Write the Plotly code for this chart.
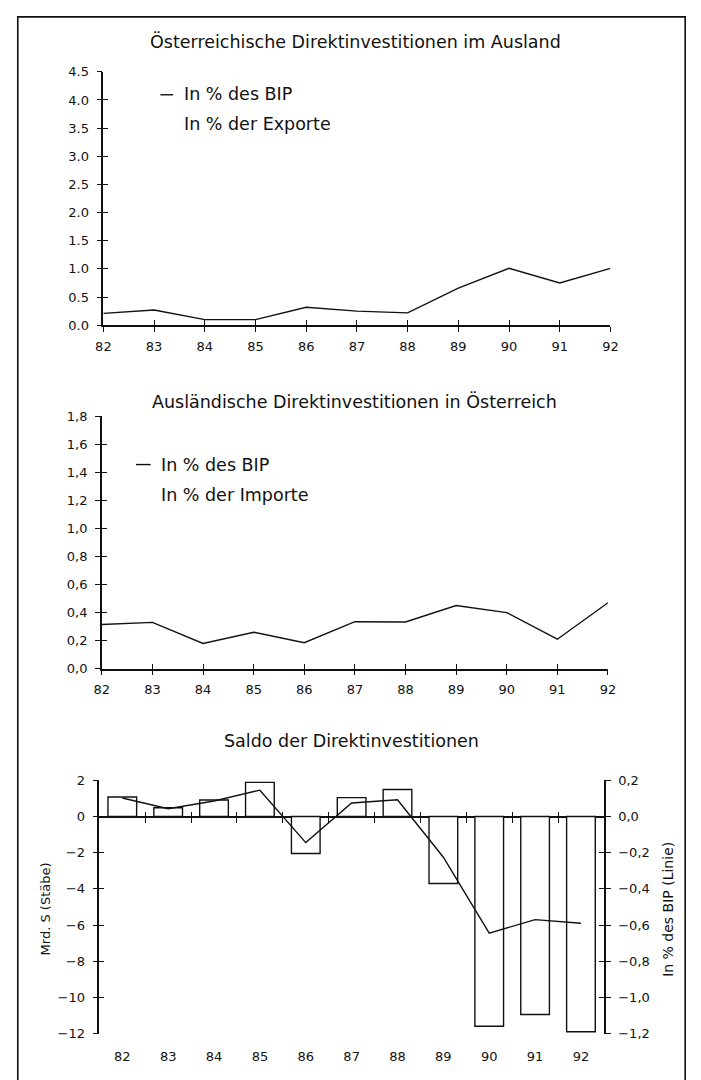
import plotly.graph_objects as go

# ---------------- data ----------------
years = [82, 83, 84, 85, 86, 87, 88, 89, 90, 91, 92]
year_labels = ["82", "83", "84", "85", "86", "87", "88", "89", "90", "91", "92"]

# Chart 1: Österreichische Direktinvestitionen im Ausland, in % des BIP
aus_bip = [0.21, 0.27, 0.10, 0.10, 0.32, 0.25, 0.22, 0.66, 1.01, 0.75, 1.01]
# Chart 2: Ausländische Direktinvestitionen in Österreich, in % des BIP
inl_bip = [0.315, 0.33, 0.18, 0.26, 0.185, 0.335, 0.333, 0.45, 0.40, 0.21, 0.47]
# Chart 3: Saldo der Direktinvestitionen
saldo_mrd = [1.08, 0.49, 0.92, 1.89, -2.04, 1.05, 1.50, -3.70, -11.60, -10.95, -11.90]
saldo_bip = [0.103, 0.043, 0.086, 0.146, -0.144, 0.075, 0.093, -0.225, -0.645, -0.57, -0.59]

c1_ticks = [0, 0.5, 1, 1.5, 2, 2.5, 3, 3.5, 4, 4.5]
c1_ticktext = ["0.0", "0.5", "1.0", "1.5", "2.0", "2.5", "3.0", "3.5", "4.0", "4.5"]
c2_ticks = [0, 0.2, 0.4, 0.6, 0.8, 1.0, 1.2, 1.4, 1.6, 1.8]
c2_ticktext = ["0,0", "0,2", "0,4", "0,6", "0,8", "1,0", "1,2", "1,4", "1,6", "1,8"]
c3l_ticks = [-12, -10, -8, -6, -4, -2, 0, 2]
c3l_ticktext = ["\u221212", "\u221210", "\u22128", "\u22126", "\u22124", "\u22122", "0", "2"]
c3r_ticks = [-1.2, -1.0, -0.8, -0.6, -0.4, -0.2, 0, 0.2]
c3r_ticktext = ["\u22121,2", "\u22121,0", "\u22120,8", "\u22120,6", "\u22120,4", "\u22120,2", "0,0", "0,2"]
half_ticks = [82.5, 83.5, 84.5, 85.5, 86.5, 87.5, 88.5, 89.5, 90.5, 91.5]

W, H = 701, 1080
def px(x):
    return x / W
def py(y):
    return 1 - y / H

FONT = "DejaVu Sans"
INK = "#111111"
tickfont = dict(family=FONT, size=13, color=INK)

fig = go.Figure()

main_line = dict(color=INK, width=1.4)
ghost = dict(mode="lines", line=dict(width=0, color="rgba(0,0,0,0)"), opacity=0,
             hoverinfo="skip", showlegend=False)

fig.add_trace(go.Scatter(x=years, y=aus_bip, mode="lines", xaxis="x", yaxis="y",
                         line=main_line, showlegend=False))
fig.add_trace(go.Scatter(x=years, y=inl_bip, mode="lines", xaxis="x2", yaxis="y2",
                         line=main_line, showlegend=False))
fig.add_trace(go.Bar(x=years, y=saldo_mrd, xaxis="x3", yaxis="y3", width=0.625,
                     marker=dict(color="white", line=dict(color=INK, width=1.4)),
                     showlegend=False))
fig.add_trace(go.Scatter(x=years, y=saldo_bip, mode="lines", xaxis="x3", yaxis="y4",
                         line=main_line, showlegend=False))

# invisible companions so the overlaid tick-only axes get drawn
fig.add_trace(go.Scatter(x=years, y=aus_bip, xaxis="x4", yaxis="y5", **ghost))
fig.add_trace(go.Scatter(x=years, y=inl_bip, xaxis="x5", yaxis="y6", **ghost))
fig.add_trace(go.Scatter(x=years, y=saldo_mrd, xaxis="x3", yaxis="y7", **ghost))
fig.add_trace(go.Scatter(x=years, y=saldo_bip, xaxis="x3", yaxis="y8", **ghost))
fig.add_trace(go.Scatter(x=years, y=saldo_mrd, xaxis="x6", yaxis="y3", **ghost))
fig.add_trace(go.Scatter(x=years, y=saldo_mrd, xaxis="x7", yaxis="y3", **ghost))

d1x = [px(97.6), px(616.5)]
d1y = [py(322.7), py(65.7)]
d2x = [px(96), px(614)]
d2y = [py(671), py(415)]
d3x = [px(93.5), px(609.8)]
d3y = [py(1041), py(784.3)]

base_ax = dict(showgrid=False, zeroline=False, linecolor=INK, tickcolor=INK,
               tickfont=tickfont, fixedrange=True)

zero_pos = d3y[0] + (0 - (-12)) / (2 - (-12)) * (d3y[1] - d3y[0])

fig.update_layout(
    width=W, height=H,
    margin=dict(l=0, r=0, t=0, b=0),
    paper_bgcolor="white", plot_bgcolor="white",
    barmode="overlay",
    # chart 1
    xaxis=dict(base_ax, domain=d1x, range=[82, 92], anchor="y", showline=True, linewidth=1.5,
               ticks="outside", ticklen=5, tickwidth=1.3, tickvals=years, ticktext=year_labels,
               ticklabelstandoff=3),
    yaxis=dict(base_ax, domain=d1y, range=[0, 4.5], anchor="x", showline=True, linewidth=1.5,
               ticks="outside", ticklen=5, tickwidth=1.3, tickvals=c1_ticks, ticktext=c1_ticktext,
               ticklabelstandoff=5),
    xaxis4=dict(base_ax, overlaying="x", range=[82, 92], anchor="y", showline=False,
                ticks="inside", ticklen=5, tickwidth=1.3, tickvals=years, showticklabels=False),
    yaxis5=dict(base_ax, overlaying="y", range=[0, 4.5], anchor="x", showline=False,
                ticks="inside", ticklen=5, tickwidth=1.3, tickvals=c1_ticks, showticklabels=False),
    # chart 2
    xaxis2=dict(base_ax, domain=d2x, range=[82, 92], anchor="y2", showline=True, linewidth=1.5,
                ticks="outside", ticklen=5, tickwidth=1.3, tickvals=years, ticktext=year_labels,
                ticklabelstandoff=3),
    yaxis2=dict(base_ax, domain=d2y, range=[0, 1.8], anchor="x2", showline=True, linewidth=1.5,
                ticks="outside", ticklen=5, tickwidth=1.3, tickvals=c2_ticks, ticktext=c2_ticktext,
                ticklabelstandoff=5),
    xaxis5=dict(base_ax, overlaying="x2", range=[82, 92], anchor="y2", showline=False,
                ticks="inside", ticklen=5, tickwidth=1.3, tickvals=years, showticklabels=False),
    yaxis6=dict(base_ax, overlaying="y2", range=[0, 1.8], anchor="x2", showline=False,
                ticks="inside", ticklen=5, tickwidth=1.3, tickvals=c2_ticks, showticklabels=False),
    # chart 3
    xaxis3=dict(base_ax, domain=d3x, range=[81.5, 92.5], anchor="y3", showline=False,
                ticks="", tickvals=years, ticktext=year_labels, ticklabelstandoff=13),
    yaxis3=dict(base_ax, domain=d3y, range=[-12, 2], anchor="x3", showline=True, linewidth=1.5,
                ticks="outside", ticklen=5, tickwidth=1.3, tickvals=c3l_ticks, ticktext=c3l_ticktext,
                zeroline=True, zerolinecolor=INK, zerolinewidth=2, ticklabelstandoff=5),
    yaxis4=dict(base_ax, overlaying="y3", side="right", range=[-1.2, 0.2], anchor="x3",
                showline=True, linewidth=1.5, ticks="outside", ticklen=5, tickwidth=1.3,
                tickvals=c3r_ticks, ticktext=c3r_ticktext, ticklabelstandoff=5),
    yaxis7=dict(base_ax, overlaying="y3", range=[-12, 2], anchor="x3", showline=False,
                ticks="inside", ticklen=5, tickwidth=1.3, tickvals=c3l_ticks, showticklabels=False),
    yaxis8=dict(base_ax, overlaying="y3", side="right", range=[-1.2, 0.2], anchor="x3",
                showline=False, ticks="inside", ticklen=5, tickwidth=1.3, tickvals=c3r_ticks,
                showticklabels=False),
    xaxis6=dict(base_ax, overlaying="x3", range=[81.5, 92.5], anchor="free", position=zero_pos,
                showline=False, ticks="outside", ticklen=5, tickwidth=1.3, tickvals=half_ticks,
                showticklabels=False),
    xaxis7=dict(base_ax, overlaying="x3", range=[81.5, 92.5], anchor="free", position=zero_pos,
                showline=False, ticks="inside", ticklen=5, tickwidth=1.3, tickvals=half_ticks,
                showticklabels=False),
)

def ann(text, x, y, size=12, xanchor="center", angle=0):
    fig.add_annotation(text=text, x=px(x), y=py(y), xref="paper", yref="paper",
                       showarrow=False, xanchor=xanchor, yanchor="middle", textangle=angle,
                       font=dict(family=FONT, size=size, color=INK))

# titles
ann("Österreichische Direktinvestitionen im Ausland", 355.5, 35, size=17.5)
ann("Ausländische Direktinvestitionen in Österreich", 354.5, 400, size=17.5)
ann("Saldo der Direktinvestitionen", 352, 744, size=17.5)

# legends
fig.add_shape(type="line", xref="paper", yref="paper", x0=px(156), x1=px(169), y0=py(89), y1=py(89),
              line=dict(color=INK, width=1.4))
ann("In % des BIP", 178, 88, size=17.5, xanchor="left")
ann("In % der Exporte", 178, 119, size=17.5, xanchor="left")
fig.add_shape(type="line", xref="paper", yref="paper", x0=px(131), x1=px(146), y0=py(464), y1=py(464),
              line=dict(color=INK, width=1.4))
ann("In % des BIP", 155, 464, size=17.5, xanchor="left")
ann("In % der Importe", 155, 495, size=17.5, xanchor="left")

# axis titles chart 3
ann("Mrd. S (Stäbe)", 38, 915, size=13, angle=-90)
ann("In % des BIP (Linie)", 676, 915, size=14, angle=-90)

# page border
fig.add_shape(type="rect", xref="paper", yref="paper", x0=px(10), x1=px(693), y0=py(1090), y1=py(10),
              line=dict(color=INK, width=1.6), layer="below")

fig.write_html("out.html", config={"displayModeBar": False},
               post_script="document.body.style.margin='0';")
